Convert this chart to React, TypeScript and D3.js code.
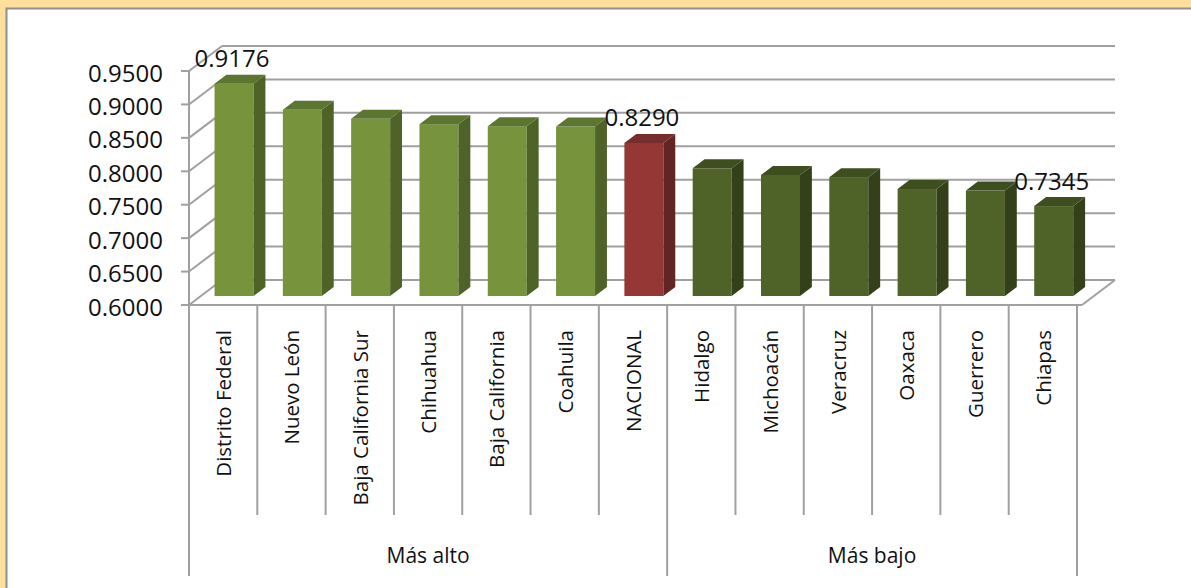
import React from "react";
import * as d3 from "d3";

// datos
const categories = [
  "Distrito Federal", "Nuevo León", "Baja California Sur", "Chihuahua", "Baja California", "Coahuila",
  "NACIONAL", "Hidalgo", "Michoacán", "Veracruz", "Oaxaca", "Guerrero", "Chiapas",
];
const values = [0.9176, 0.8785, 0.865, 0.857, 0.854, 0.8535, 0.829, 0.791, 0.781, 0.7778, 0.76, 0.7577, 0.7345];
const kinds = ["alto", "alto", "alto", "alto", "alto", "alto", "nacional", "bajo", "bajo", "bajo", "bajo", "bajo", "bajo"];
const labelled = ["Distrito Federal", "NACIONAL", "Chiapas"];
const groupNames = ["Más alto", "Más bajo"];
const groupStarts = [0, 7];
const yTicks = [0.6, 0.65, 0.7, 0.75, 0.8, 0.85, 0.9, 0.95];

const W = 1191;
const H = 588;
const DX = 33; // profundidad del piso
const DY = -25;
const D0 = 0.36; // cara frontal de la barra
const D1 = 0.72; // cara trasera
const BAR_W = 39;

const palette: Record<string, { front: string; side: string; top: string }> = {
  alto: { front: "#77933C", side: "#4F6228", top: "#5C7530" },
  nacional: { front: "#953735", side: "#632523", top: "#772D2B" },
  bajo: { front: "#4F6228", side: "#33401A", top: "#3E4E1F" },
};

const font = "'Open Sans', sans-serif";
const grid = "#A0A0A0";

export default function App() {
  const x = d3.scaleBand<string>().domain(categories).range([189, 1077]);
  const y = d3.scaleLinear().domain([0.6, 0.95]).range([305, 71]);
  const bw = x.bandwidth();
  const y0 = y(0.6);
  const xL = x.range()[0];
  const xR = x.range()[1];
  const fmt = d3.format(".4f");

  return (
    <svg width={W} height={H} style={{ position: "absolute", left: 0, top: 0 }}>
      {/* marco */}
      <rect x={0} y={0} width={W} height={H} fill="#FFDF9B" />
      <rect x={6.5} y={8.5} width={W} height={H} fill="#fff" stroke="#909090" strokeWidth={2} />

      {/* pared trasera y lateral */}
      {yTicks.map((t) => (
        <g key={t}>
          <line x1={xL + DX} x2={xR + DX + 5} y1={y(t) + DY} y2={y(t) + DY} stroke={grid} strokeWidth={2} />
          <line x1={xL} x2={xL + DX} y1={y(t)} y2={y(t) + DY} stroke={grid} strokeWidth={2} />
          <line x1={xL - 8} x2={xL} y1={y(t)} y2={y(t)} stroke={grid} strokeWidth={2} />
          <text x={163} y={y(t) + 1} textAnchor="end" dominantBaseline="central" fontFamily={font} fontSize={24} fill="#111">
            {fmt(t)}
          </text>
        </g>
      ))}
      {/* piso */}
      <line x1={xL} x2={xR + 5} y1={y0} y2={y0} stroke={grid} strokeWidth={2} />
      <line x1={xR + 5} x2={xR + 5 + DX} y1={y0} y2={y0 + DY} stroke={grid} strokeWidth={2} />
      <line x1={xL} x2={xL} y1={y(0.95)} y2={y0} stroke={grid} strokeWidth={2} />

      {/* barras */}
      {categories.map((c, i) => {
        const v = values[i];
        const col = palette[kinds[i]];
        const cx = x(c)! + bw / 2 + DX * D0 - 1;
        const l = cx - BAR_W / 2;
        const r = cx + BAR_W / 2;
        const yt = y(v) + DY * D0;
        const yb = y0 + DY * D0;
        const ddx = DX * (D1 - D0);
        const ddy = DY * (D1 - D0);
        return (
          <g key={c}>
            <rect x={l} y={yt} width={BAR_W} height={yb - yt} fill={col.front} />
            <polygon points={`${r},${yt} ${r + ddx},${yt + ddy} ${r + ddx},${yb + ddy} ${r},${yb}`} fill={col.side} />
            <polygon points={`${l},${yt} ${r},${yt} ${r + ddx},${yt + ddy} ${l + ddx},${yt + ddy}`} fill={col.top} />
            {labelled.includes(c) && (
              <text x={cx - 2} y={y(v) + DY * D1 - 17} textAnchor="middle" dominantBaseline="central" fontFamily={font} fontSize={24} fill="#111">
                {fmt(v)}
              </text>
            )}
          </g>
        );
      })}

      {/* eje de categorías */}
      {categories.map((c, i) => {
        const edge = x(c)!;
        const isGroupEdge = groupStarts.includes(i);
        const cx = edge + bw / 2;
        return (
          <g key={c}>
            <line x1={edge} x2={edge} y1={y0} y2={isGroupEdge ? 576 : 515} stroke={grid} strokeWidth={2} />
            <text
              transform={`translate(${cx},330) rotate(-90)`}
              textAnchor="end"
              dominantBaseline="central"
              fontFamily={font}
              fontSize={20.5}
              fill="#111"
            >
              {c}
            </text>
          </g>
        );
      })}
      <line x1={xR} x2={xR} y1={y0} y2={576} stroke={grid} strokeWidth={2} />
      {groupNames.map((g, gi) => {
        const a = x(categories[groupStarts[gi]])!;
        const b = gi + 1 < groupStarts.length ? x(categories[groupStarts[gi + 1]])! : xR;
        return (
          <text key={g} x={(a + b) / 2} y={555} textAnchor="middle" dominantBaseline="central" fontFamily={font} fontSize={21} fill="#111">
            {g}
          </text>
        );
      })}
    </svg>
  );
}
